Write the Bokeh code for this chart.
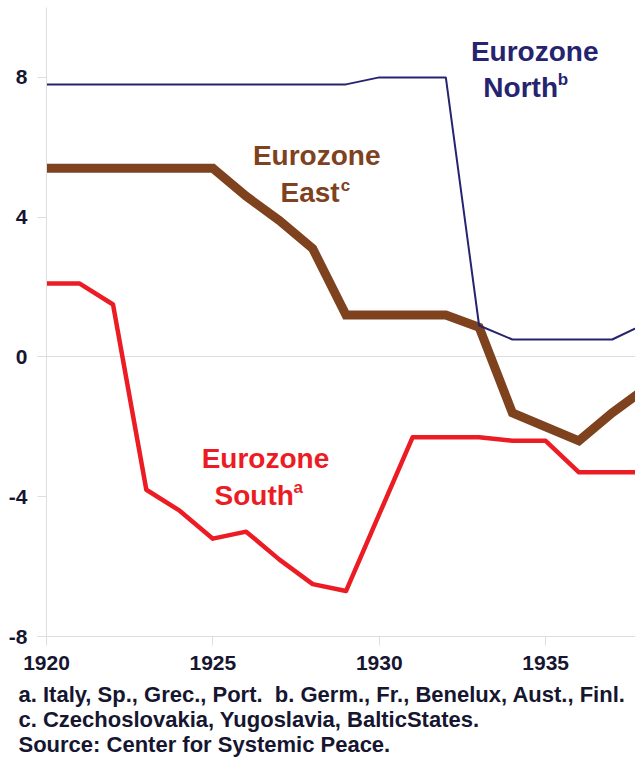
from bokeh.plotting import figure
from bokeh.models import Label, FixedTicker, Range1d, Title
from bokeh.embed import file_html
from bokeh.resources import INLINE

years = list(range(1920, 1939))
north = [7.8, 7.8, 7.8, 7.8, 7.8, 7.8, 7.8, 7.8, 7.8, 7.8, 8.0, 8.0, 8.0, 0.9, 0.5, 0.5, 0.5, 0.5, 0.95]
east = [5.4, 5.4, 5.4, 5.4, 5.4, 5.4, 4.6, 3.9, 3.1, 1.2, 1.2, 1.2, 1.2, 0.85, -1.6, -2.0, -2.4, -1.6, -0.9]
south = [2.1, 2.1, 1.5, -3.8, -4.4, -5.2, -5.0, -5.8, -6.5, -6.7, -4.5, -2.3, -2.3, -2.3, -2.4, -2.4, -3.3, -3.3, -3.3]

x_ticks = [1920, 1925, 1930, 1935]
y_ticks = [-8, -4, 0, 4, 8]
y_tick_labels = {-8: "-8", -4: "-4", 0: "0", 4: "4", 8: "8"}
grid_vals = [-8, 0, 10]

footnotes = [
    "a. Italy, Sp., Grec., Port.\u00a0 b. Germ., Fr., Benelux, Aust., Finl.",
    "c. Czechoslovakia, Yugoslavia, BalticStates.",
    "Source: Center for Systemic Peace.",
]

NAVY = "#26236f"
BROWN = "#7e421e"
RED = "#ec1c24"
TXT = "#161630"
GRID = "#dedede"
FONT = "Liberation Sans"

p = figure(width=635, height=763, output_backend="svg", toolbar_location=None,
           x_range=Range1d(1920, 1937.7), y_range=Range1d(-8, 10),
           min_border_left=46, min_border_right=0, min_border_top=7, min_border_bottom=127)
p.outline_line_color = None
p.background_fill_color = "white"
p.border_fill_color = "white"

p.line(years, south, line_color=RED, line_width=4.5, line_join="round")
p.line(years, east, line_color=BROWN, line_width=9, line_join="miter", line_cap="round")
p.line(years, north, line_color=NAVY, line_width=2)

p.xgrid.visible = False
p.ygrid.ticker = FixedTicker(ticks=grid_vals)
p.ygrid.grid_line_color = GRID
p.ygrid.grid_line_width = 1

for ax, ticks, standoff in ((p.xaxis, x_ticks, 10), (p.yaxis, y_ticks, 10)):
    ax.ticker = FixedTicker(ticks=ticks)
    ax.axis_line_color = GRID
    ax.major_tick_line_color = GRID
    ax.major_tick_in = 0
    ax.major_tick_out = 9
    ax.minor_tick_line_color = None
    ax.major_label_text_font = FONT
    ax.major_label_text_font_style = "bold"
    ax.major_label_text_font_size = "21px"
    ax.major_label_text_color = TXT
    ax.major_label_standoff = standoff
p.yaxis.major_label_overrides = y_tick_labels

p.add_layout(Title(text="\n".join(footnotes), align="left", offset=-28, standoff=14,
                   text_font=FONT, text_font_style="bold", text_font_size="22px",
                   text_color=TXT, text_line_height=1.0), "below")

def lab(x, y, text, color, size, align="center"):
    p.add_layout(Label(x=x, y=y, text=text, text_color=color, text_font=FONT,
                       text_font_style="bold", text_font_size=size,
                       text_align=align, text_baseline="middle"))

lab(1934.67, 8.74, "Eurozone", NAVY, "28px")
lab(1934.25, 7.71, "North", NAVY, "28px")
lab(1935.36, 7.93, "b", NAVY, "17px", "left")

lab(1928.12, 5.76, "Eurozone", BROWN, "28px")
lab(1927.92, 4.70, "East", BROWN, "28px")
lab(1928.84, 4.92, "c", BROWN, "17px", "left")

lab(1926.58, -2.90, "Eurozone", RED, "28px")
lab(1926.24, -3.96, "South", RED, "28px")
lab(1927.42, -3.74, "a", RED, "17px", "left")

open("out.html", "w").write(file_html(p, INLINE))
